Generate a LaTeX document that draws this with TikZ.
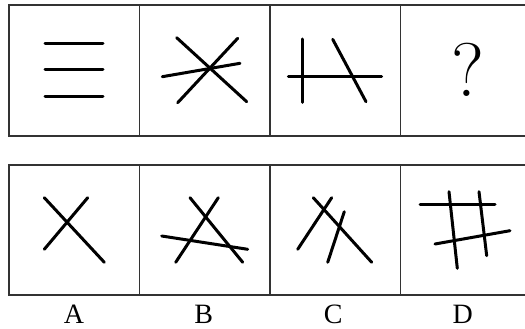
\documentclass[tikz,border=0pt]{standalone}
\usepackage{fontspec}
\newfontfamily\timesf{Liberation Serif}
\begin{document}
\begin{tikzpicture}[x=1pt,y=-1pt,
  frame/.style={draw=black!80,line width=1.8pt},
  stroke/.style={line width=3pt,line cap=round,black},
  lab/.style={font=\timesf\fontsize{28}{28}\selectfont,inner sep=0pt,anchor=base}]
\useasboundingbox (0,0) rectangle (525,329);
\fill[white] (0,0) rectangle (525,329);
\clip (0,0) rectangle (525,329);
% frames
\foreach \yt/\yb in {5/136,165/295}{
  \draw[frame] (9,\yt) rectangle (531,\yb);
  \foreach \xx in {139.5,270,400.5}{\draw[frame] (\xx,\yt) -- (\xx,\yb);}
}
% top row, cell 1
\draw[stroke] (45,44) -- (103,44);
\draw[stroke] (45,70) -- (103,70);
\draw[stroke] (45,97) -- (103,97);
% cell 2
\draw[stroke] (176.7,37.7) -- (246.7,101.7);
\draw[stroke] (177.7,102.7) -- (237.7,38.3);
\draw[stroke] (162.3,76.7) -- (240,63.3);
% cell 3
\draw[stroke] (302.7,39) -- (302.7,102.3);
\draw[stroke] (288.3,76.7) -- (381.7,76.7);
\draw[stroke] (332.7,39.3) -- (366,101.7);
% cell 4
\node[inner sep=0pt,anchor=base,font=\fontsize{76}{76}\selectfont] (q) at (467.5,96.7) {?};
% option A
\draw[stroke] (44.3,197.7) -- (104.3,262.3);
\draw[stroke] (87.7,197.7) -- (44.3,249.3);
% option B
\draw[stroke] (190,197.7) -- (242.7,262.3);
\draw[stroke] (218.3,197.7) -- (175.7,262.3);
\draw[stroke] (161.7,236) -- (247.7,249.3);
% option C
\draw[stroke] (313.3,197.7) -- (371.7,262.3);
\draw[stroke] (331.7,197.7) -- (297.7,249.3);
\draw[stroke] (344.3,211.7) -- (327.7,262.3);
% option D
\draw[stroke] (420,204.3) -- (495,204.3);
\draw[stroke] (435,244) -- (510,230.7);
\draw[stroke] (449,191.7) -- (457.3,268.3);
\draw[stroke] (479,191.7) -- (486.7,255.7);
% labels
\node[lab] (la) at (74,323.3) {A};
\node[lab] (lb) at (203.7,323.3) {B};
\node[lab] (lc) at (333.3,323.3) {C};
\node[lab] (ld) at (462.7,323.3) {D};
\end{tikzpicture}
\end{document}
